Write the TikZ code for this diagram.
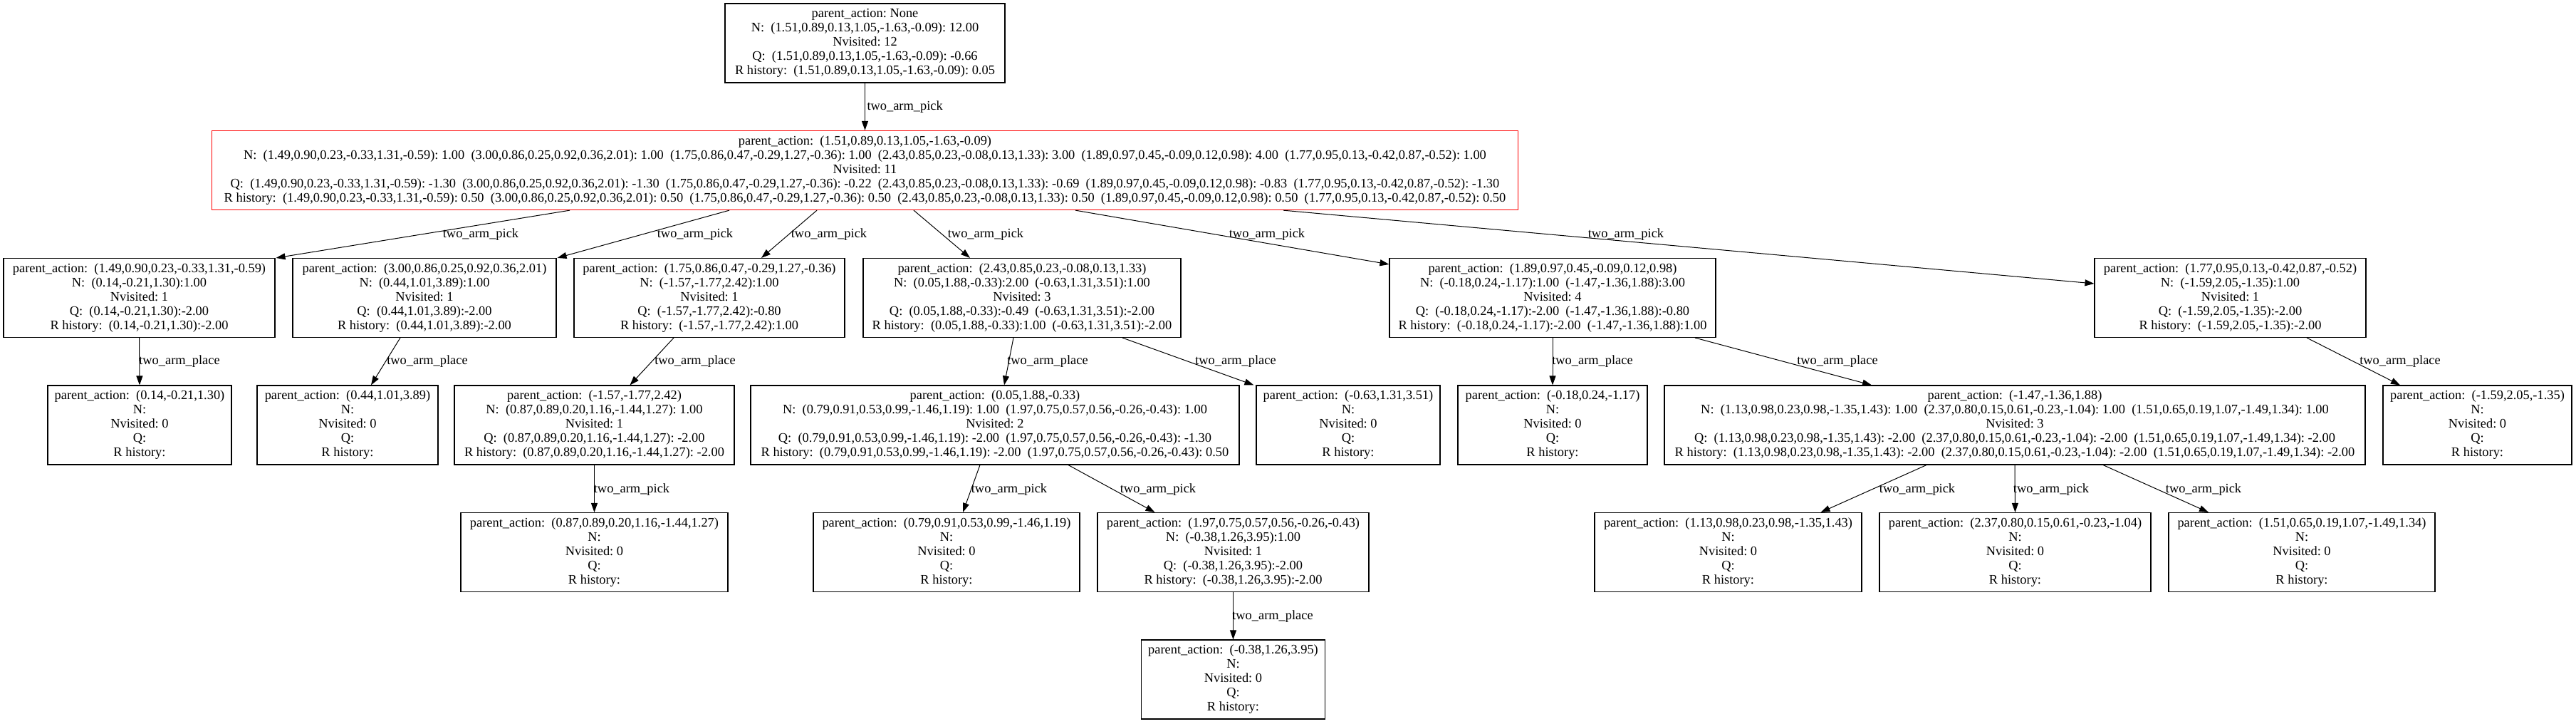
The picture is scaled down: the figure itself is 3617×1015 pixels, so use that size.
\documentclass[tikz,border=0pt]{standalone}
\usepackage{fontspec}
\setmainfont{Liberation Serif}
\usetikzlibrary{arrows.meta}
\newcommand{\tnr}{\fontsize{18.4}{20}\selectfont\frenchspacing}
\newcommand{\gp}{\hspace{0.5em}}
\begin{document}
\begin{tikzpicture}[x=1pt,y=-1pt,
  box/.style={draw, line width=1.1pt, rectangle, align=center, inner sep=0pt, minimum height=111pt, font=\tnr},
  redbox/.style={box, draw=red, line width=1.3pt},
  edge/.style={-{Triangle[length=13pt,width=9pt]}, line width=1pt},
  lbl/.style={font=\tnr, inner sep=0pt}]
\fill[white] (0,0) rectangle (3617,1015);

% level 1
\node[box, minimum width=393pt] (root) at (1214.5,60.5) {parent\_action: None\\N:\gp(1.51,0.89,0.13,1.05,-1.63,-0.09): 12.00\\Nvisited: 12\\Q:\gp(1.51,0.89,0.13,1.05,-1.63,-0.09): -0.66\\R history:\gp(1.51,0.89,0.13,1.05,-1.63,-0.09): 0.05};

% level 2
\node[redbox, minimum width=1834pt] (L2) at (1214.5,239) {parent\_action:\gp(1.51,0.89,0.13,1.05,-1.63,-0.09)\\
N:\gp(1.49,0.90,0.23,-0.33,1.31,-0.59): 1.00\gp(3.00,0.86,0.25,0.92,0.36,2.01): 1.00\gp(1.75,0.86,0.47,-0.29,1.27,-0.36): 1.00\gp(2.43,0.85,0.23,-0.08,0.13,1.33): 3.00\gp(1.89,0.97,0.45,-0.09,0.12,0.98): 4.00\gp(1.77,0.95,0.13,-0.42,0.87,-0.52): 1.00\\
Nvisited: 11\\
Q:\gp(1.49,0.90,0.23,-0.33,1.31,-0.59): -1.30\gp(3.00,0.86,0.25,0.92,0.36,2.01): -1.30\gp(1.75,0.86,0.47,-0.29,1.27,-0.36): -0.22\gp(2.43,0.85,0.23,-0.08,0.13,1.33): -0.69\gp(1.89,0.97,0.45,-0.09,0.12,0.98): -0.83\gp(1.77,0.95,0.13,-0.42,0.87,-0.52): -1.30\\
R history:\gp(1.49,0.90,0.23,-0.33,1.31,-0.59): 0.50\gp(3.00,0.86,0.25,0.92,0.36,2.01): 0.50\gp(1.75,0.86,0.47,-0.29,1.27,-0.36): 0.50\gp(2.43,0.85,0.23,-0.08,0.13,1.33): 0.50\gp(1.89,0.97,0.45,-0.09,0.12,0.98): 0.50\gp(1.77,0.95,0.13,-0.42,0.87,-0.52): 0.50};

% level 3
\node[box, minimum width=381pt] (L3a) at (195.5,418) {parent\_action:\gp(1.49,0.90,0.23,-0.33,1.31,-0.59)\\N:\gp(0.14,-0.21,1.30):1.00\\Nvisited: 1\\Q:\gp(0.14,-0.21,1.30):-2.00\\R history:\gp(0.14,-0.21,1.30):-2.00};
\node[box, minimum width=370pt] (L3b) at (596,418) {parent\_action:\gp(3.00,0.86,0.25,0.92,0.36,2.01)\\N:\gp(0.44,1.01,3.89):1.00\\Nvisited: 1\\Q:\gp(0.44,1.01,3.89):-2.00\\R history:\gp(0.44,1.01,3.89):-2.00};
\node[box, minimum width=380pt] (L3c) at (996,418) {parent\_action:\gp(1.75,0.86,0.47,-0.29,1.27,-0.36)\\N:\gp(-1.57,-1.77,2.42):1.00\\Nvisited: 1\\Q:\gp(-1.57,-1.77,2.42):-0.80\\R history:\gp(-1.57,-1.77,2.42):1.00};
\node[box, minimum width=446pt] (L3d) at (1435,418) {parent\_action:\gp(2.43,0.85,0.23,-0.08,0.13,1.33)\\N:\gp(0.05,1.88,-0.33):2.00\gp(-0.63,1.31,3.51):1.00\\Nvisited: 3\\Q:\gp(0.05,1.88,-0.33):-0.49\gp(-0.63,1.31,3.51):-2.00\\R history:\gp(0.05,1.88,-0.33):1.00\gp(-0.63,1.31,3.51):-2.00};
\node[box, minimum width=458pt] (L3e) at (2180,418) {parent\_action:\gp(1.89,0.97,0.45,-0.09,0.12,0.98)\\N:\gp(-0.18,0.24,-1.17):1.00\gp(-1.47,-1.36,1.88):3.00\\Nvisited: 4\\Q:\gp(-0.18,0.24,-1.17):-2.00\gp(-1.47,-1.36,1.88):-0.80\\R history:\gp(-0.18,0.24,-1.17):-2.00\gp(-1.47,-1.36,1.88):1.00};
\node[box, minimum width=381pt] (L3f) at (3131.5,418) {parent\_action:\gp(1.77,0.95,0.13,-0.42,0.87,-0.52)\\N:\gp(-1.59,2.05,-1.35):1.00\\Nvisited: 1\\Q:\gp(-1.59,2.05,-1.35):-2.00\\R history:\gp(-1.59,2.05,-1.35):-2.00};

% level 4
\node[box, minimum width=258pt] (L4a) at (196,596.5) {parent\_action:\gp(0.14,-0.21,1.30)\\N:\\Nvisited: 0\\Q:\\R history:};
\node[box, minimum width=254pt] (L4b) at (488,596.5) {parent\_action:\gp(0.44,1.01,3.89)\\N:\\Nvisited: 0\\Q:\\R history:};
\node[box, minimum width=393pt] (L4c) at (834.5,596.5) {parent\_action:\gp(-1.57,-1.77,2.42)\\N:\gp(0.87,0.89,0.20,1.16,-1.44,1.27): 1.00\\Nvisited: 1\\Q:\gp(0.87,0.89,0.20,1.16,-1.44,1.27): -2.00\\R history:\gp(0.87,0.89,0.20,1.16,-1.44,1.27): -2.00};
\node[box, minimum width=686pt] (L4d) at (1397,596.5) {parent\_action:\gp(0.05,1.88,-0.33)\\N:\gp(0.79,0.91,0.53,0.99,-1.46,1.19): 1.00\gp(1.97,0.75,0.57,0.56,-0.26,-0.43): 1.00\\Nvisited: 2\\Q:\gp(0.79,0.91,0.53,0.99,-1.46,1.19): -2.00\gp(1.97,0.75,0.57,0.56,-0.26,-0.43): -1.30\\R history:\gp(0.79,0.91,0.53,0.99,-1.46,1.19): -2.00\gp(1.97,0.75,0.57,0.56,-0.26,-0.43): 0.50};
\node[box, minimum width=258pt] (L4e) at (1893,596.5) {parent\_action:\gp(-0.63,1.31,3.51)\\N:\\Nvisited: 0\\Q:\\R history:};
\node[box, minimum width=266pt] (L4f) at (2180,596.5) {parent\_action:\gp(-0.18,0.24,-1.17)\\N:\\Nvisited: 0\\Q:\\R history:};
\node[box, minimum width=984pt] (L4g) at (2829,596.5) {parent\_action:\gp(-1.47,-1.36,1.88)\\N:\gp(1.13,0.98,0.23,0.98,-1.35,1.43): 1.00\gp(2.37,0.80,0.15,0.61,-0.23,-1.04): 1.00\gp(1.51,0.65,0.19,1.07,-1.49,1.34): 1.00\\Nvisited: 3\\Q:\gp(1.13,0.98,0.23,0.98,-1.35,1.43): -2.00\gp(2.37,0.80,0.15,0.61,-0.23,-1.04): -2.00\gp(1.51,0.65,0.19,1.07,-1.49,1.34): -2.00\\R history:\gp(1.13,0.98,0.23,0.98,-1.35,1.43): -2.00\gp(2.37,0.80,0.15,0.61,-0.23,-1.04): -2.00\gp(1.51,0.65,0.19,1.07,-1.49,1.34): -2.00};
\node[box, minimum width=265pt] (L4h) at (3478.5,596.5) {parent\_action:\gp(-1.59,2.05,-1.35)\\N:\\Nvisited: 0\\Q:\\R history:};

% level 5
\node[box, minimum width=375pt] (L5a) at (834.5,775) {parent\_action:\gp(0.87,0.89,0.20,1.16,-1.44,1.27)\\N:\\Nvisited: 0\\Q:\\R history:};
\node[box, minimum width=374pt] (L5b) at (1329,775) {parent\_action:\gp(0.79,0.91,0.53,0.99,-1.46,1.19)\\N:\\Nvisited: 0\\Q:\\R history:};
\node[box, minimum width=381pt] (L5c) at (1731.5,775) {parent\_action:\gp(1.97,0.75,0.57,0.56,-0.26,-0.43)\\N:\gp(-0.38,1.26,3.95):1.00\\Nvisited: 1\\Q:\gp(-0.38,1.26,3.95):-2.00\\R history:\gp(-0.38,1.26,3.95):-2.00};
\node[box, minimum width=375pt] (L5d) at (2426.5,775) {parent\_action:\gp(1.13,0.98,0.23,0.98,-1.35,1.43)\\N:\\Nvisited: 0\\Q:\\R history:};
\node[box, minimum width=381pt] (L5e) at (2829.5,775) {parent\_action:\gp(2.37,0.80,0.15,0.61,-0.23,-1.04)\\N:\\Nvisited: 0\\Q:\\R history:};
\node[box, minimum width=374pt] (L5f) at (3232,775) {parent\_action:\gp(1.51,0.65,0.19,1.07,-1.49,1.34)\\N:\\Nvisited: 0\\Q:\\R history:};

% level 6
\node[box, minimum width=258pt] (L6) at (1731.5,953.5) {parent\_action:\gp(-0.38,1.26,3.95)\\N:\\Nvisited: 0\\Q:\\R history:};

% edges level 1-2
\draw[edge] (root.south) -- (L2.north) node[lbl, anchor=west] at (1217,150) {two\_arm\_pick};
% edges level 2-3
\draw[edge] ([xshift=-414.5pt]L2.south) -- ([xshift=1pt]L3a.north east) node[lbl] at (675,329) {two\_arm\_pick};
\draw[edge] ([xshift=-190.5pt]L2.south) -- ([xshift=1pt]L3b.north east) node[lbl] at (976,329) {two\_arm\_pick};
\draw[edge] ([xshift=-67.5pt]L2.south) -- ([xshift=73pt]L3c.north) node[lbl] at (1164,329) {two\_arm\_pick};
\draw[edge] ([xshift=68.5pt]L2.south) -- ([xshift=-73pt]L3d.north) node[lbl] at (1384,329) {two\_arm\_pick};
\draw[edge] ([xshift=295.5pt]L2.south) -- ([yshift=-9pt]L3e.north west) node[lbl] at (1779,329) {two\_arm\_pick};
\draw[edge] ([xshift=587.5pt]L2.south) -- ([yshift=20pt]L3f.west) node[lbl] at (2283,329) {two\_arm\_pick};
% edges level 3-4
\draw[edge] (L3a.south) -- (L4a.north) node[lbl] at (252,507) {two\_arm\_place};
\draw[edge] ([xshift=-34pt]L3b.south) -- ([xshift=33pt]L4b.north) node[lbl] at (600,507) {two\_arm\_place};
\draw[edge] ([xshift=-50pt]L3c.south) -- ([xshift=50pt]L4c.north) node[lbl] at (976,507) {two\_arm\_place};
\draw[edge] ([xshift=-12pt]L3d.south) -- ([xshift=13pt]L4d.north) node[lbl] at (1471,507) {two\_arm\_place};
\draw[edge] ([xshift=141pt]L3d.south) -- ([xshift=-3pt]L4e.north west) node[lbl] at (1735,507) {two\_arm\_place};
\draw[edge] (L3e.south) -- (L4f.north) node[lbl] at (2236,507) {two\_arm\_place};
\draw[edge] ([xshift=200pt]L3e.south) -- ([xshift=-201pt]L4g.north) node[lbl] at (2580,507) {two\_arm\_place};
\draw[edge] ([xshift=107.5pt]L3f.south) -- ([xshift=-108.5pt]L4h.north) node[lbl] at (3370,507) {two\_arm\_place};
% edges level 4-5
\draw[edge] (L4c.south) -- (L5a.north) node[lbl] at (887,687) {two\_arm\_pick};
\draw[edge] ([xshift=-21pt]L4d.south) -- ([xshift=23pt]L5b.north) node[lbl] at (1417,687) {two\_arm\_pick};
\draw[edge] ([xshift=103pt]L4d.south) -- ([xshift=-110pt]L5c.north) node[lbl] at (1626,687) {two\_arm\_pick};
\draw[edge] ([xshift=-124pt]L4g.south) -- ([xshift=130pt]L5d.north) node[lbl] at (2692,687) {two\_arm\_pick};
\draw[edge] (L4g.south) -- (L5e.north) node[lbl] at (2880,687) {two\_arm\_pick};
\draw[edge] ([xshift=124pt]L4g.south) -- ([xshift=-131pt]L5f.north) node[lbl] at (3094,687) {two\_arm\_pick};
% edges level 5-6
\draw[edge] (L5c.south) -- (L6.north) node[lbl] at (1787,865) {two\_arm\_place};
\end{tikzpicture}
\end{document}
